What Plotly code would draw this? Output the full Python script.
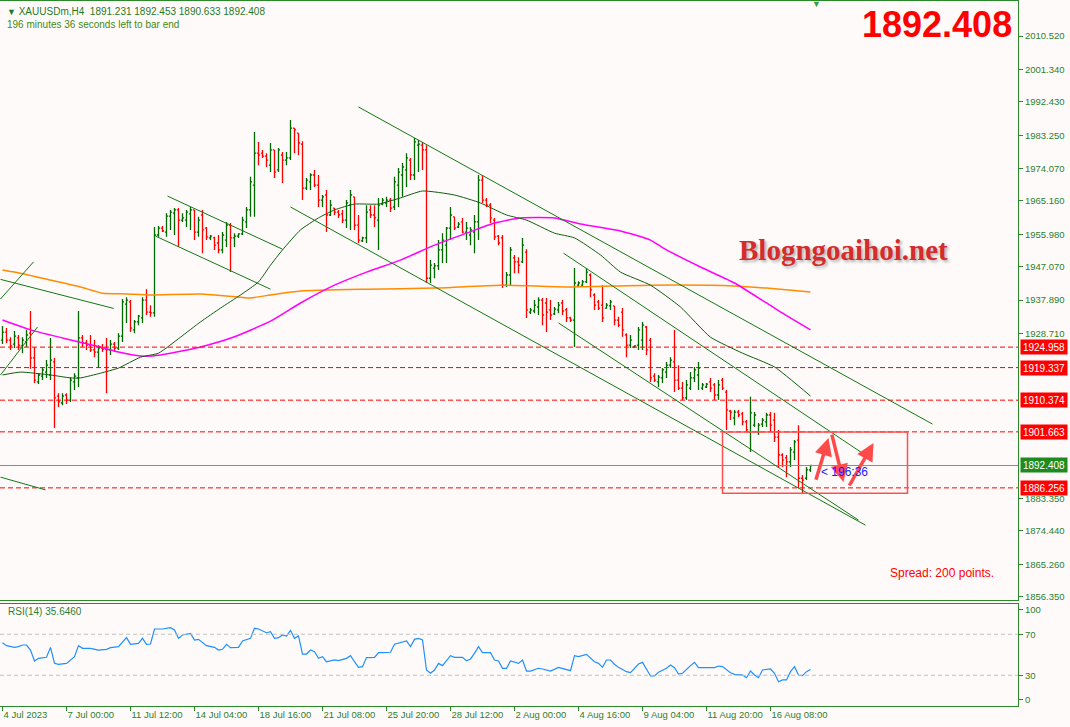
import plotly.graph_objects as go

W, H = 1070, 727

# ---------------- data: H4 bars (bar index 0 = 4 Jul 2023) ----------------
OPEN = [1926.9, 1929.1, 1926.9, 1925.8, 1927.5, 1925.3, 1926.4, 1928.8, 1922.0, 1915.4,
        1917.0, 1918.1, 1917.3, 1920.9, 1911.5, 1909.6, 1911.8, 1910.4, 1915.4, 1916.5,
        1927.5, 1926.1, 1925.5, 1924.2, 1923.6, 1924.7, 1924.4, 1924.2, 1925.8, 1924.7,
        1928.0, 1936.8, 1937.4, 1929.7, 1931.9, 1933.0, 1937.9, 1934.6, 1934.4, 1955.8,
        1957.7, 1956.6, 1961.0, 1961.8, 1962.7, 1959.9, 1959.9, 1961.6, 1962.7, 1956.6,
        1961.3, 1957.7, 1955.0, 1955.0, 1953.6, 1951.7, 1954.4, 1958.5, 1955.0, 1955.5,
        1956.1, 1959.4, 1962.7, 1969.5, 1978.3, 1978.3, 1977.5, 1975.0, 1979.2, 1973.7,
        1977.8, 1976.4, 1977.0, 1985.2, 1983.8, 1980.8, 1968.7, 1970.4, 1972.3, 1969.5,
        1965.4, 1966.8, 1961.3, 1963.2, 1962.1, 1961.6, 1959.9, 1964.0, 1966.3, 1958.5,
        1954.2, 1955.0, 1962.7, 1961.3, 1959.9, 1964.3, 1964.6, 1965.4, 1963.5, 1969.5,
        1972.3, 1973.7, 1976.4, 1972.3, 1980.5, 1980.5, 1979.2, 1943.9, 1946.7, 1947.3,
        1951.7, 1953.0, 1957.7, 1960.8, 1958.0, 1959.4, 1956.6, 1955.8, 1956.6, 1959.4,
        1970.9, 1965.4, 1964.0, 1959.9, 1955.5, 1955.0, 1942.0, 1944.8, 1949.5, 1948.4,
        1948.4, 1951.1, 1934.6, 1934.9, 1936.0, 1937.9, 1937.1, 1935.2, 1934.1, 1935.2,
        1937.1, 1935.2, 1933.0, 1932.4, 1942.0, 1942.0, 1942.9, 1944.8, 1939.3, 1937.4,
        1936.5, 1935.7, 1936.3, 1936.3, 1932.4, 1934.6, 1928.3, 1925.5, 1925.0, 1925.5,
        1926.9, 1930.5, 1926.9, 1917.0, 1915.4, 1916.5, 1918.1, 1920.0, 1920.9, 1915.9,
        1913.7, 1911.0, 1913.7, 1916.5, 1917.3, 1913.7, 1914.0, 1915.4, 1914.6, 1911.8,
        1915.9, 1912.6, 1907.4, 1905.5, 1907.1, 1906.6, 1904.4, 1901.6, 1903.5, 1901.6,
        1903.8, 1904.4, 1906.3, 1904.9, 1900.2, 1895.3, 1894.5, 1893.4, 1896.1, 1899.4,
        1888.9, 1888.9, 1891.231]
HIGH = [1930.8, 1930.2, 1927.7, 1929.4, 1928.3, 1927.7, 1929.7, 1934.9, 1925.0, 1917.8,
        1919.5, 1921.4, 1927.5, 1922.0, 1912.3, 1912.3, 1912.3, 1916.7, 1917.8, 1934.9,
        1928.3, 1926.9, 1928.3, 1926.9, 1925.5, 1925.8, 1927.5, 1926.9, 1926.4, 1928.8,
        1938.2, 1938.7, 1937.9, 1932.4, 1933.8, 1938.7, 1940.9, 1936.5, 1958.0, 1958.3,
        1958.3, 1961.8, 1962.7, 1963.2, 1963.2, 1961.8, 1962.7, 1963.5, 1962.7, 1960.8,
        1962.7, 1958.0, 1955.8, 1955.3, 1955.8, 1956.6, 1959.4, 1959.1, 1956.3, 1956.3,
        1960.8, 1963.5, 1971.8, 1984.1, 1981.4, 1979.2, 1978.3, 1981.1, 1979.2, 1979.7,
        1978.6, 1978.6, 1987.4, 1985.2, 1983.8, 1981.6, 1971.5, 1972.8, 1973.7, 1972.3,
        1966.8, 1968.2, 1965.4, 1963.2, 1962.7, 1962.7, 1965.4, 1968.2, 1966.3, 1961.3,
        1955.3, 1964.0, 1964.0, 1964.0, 1966.0, 1966.0, 1966.3, 1966.0, 1971.8, 1974.2,
        1975.6, 1978.3, 1977.0, 1982.5, 1981.9, 1981.4, 1980.5, 1948.9, 1948.1, 1954.4,
        1956.3, 1958.0, 1963.5, 1960.8, 1959.4, 1960.5, 1959.4, 1958.0, 1961.3, 1972.3,
        1972.3, 1966.0, 1964.6, 1960.5, 1955.8, 1955.8, 1945.6, 1952.5, 1950.3, 1949.7,
        1955.0, 1951.9, 1935.7, 1937.9, 1938.7, 1938.5, 1938.5, 1937.9, 1936.0, 1937.4,
        1937.9, 1935.7, 1933.3, 1946.7, 1943.1, 1943.4, 1946.7, 1945.3, 1939.8, 1937.9,
        1942.0, 1937.1, 1937.9, 1936.3, 1933.3, 1935.7, 1928.8, 1928.3, 1925.5, 1930.5,
        1931.9, 1930.8, 1927.5, 1917.8, 1917.3, 1919.2, 1920.9, 1922.2, 1929.7, 1920.0,
        1915.4, 1915.9, 1918.1, 1919.5, 1920.9, 1915.1, 1915.1, 1916.5, 1915.1, 1915.9,
        1916.5, 1913.2, 1907.7, 1907.7, 1907.7, 1907.1, 1904.9, 1911.3, 1907.1, 1904.1,
        1905.5, 1906.9, 1907.1, 1906.9, 1902.2, 1895.8, 1895.3, 1897.5, 1899.4, 1903.5,
        1889.8, 1892.0, 1892.453]
LOW = [1925.8, 1926.1, 1924.2, 1924.7, 1924.2, 1923.3, 1925.0, 1919.0, 1915.1, 1914.8,
       1915.9, 1916.5, 1915.9, 1902.7, 1908.5, 1909.0, 1909.3, 1909.9, 1913.2, 1914.0,
       1925.0, 1924.2, 1923.6, 1922.2, 1919.2, 1923.6, 1912.3, 1922.8, 1923.6, 1924.2,
       1926.4, 1931.6, 1929.1, 1928.8, 1931.0, 1931.6, 1933.8, 1933.3, 1933.3, 1955.3,
       1956.6, 1955.3, 1957.2, 1955.8, 1952.5, 1959.4, 1958.0, 1957.2, 1954.4, 1955.3,
       1950.8, 1954.4, 1954.4, 1951.7, 1950.8, 1950.8, 1952.5, 1945.6, 1952.5, 1955.0,
       1955.8, 1957.7, 1960.8, 1960.8, 1975.0, 1977.0, 1974.5, 1973.1, 1971.5, 1973.1,
       1970.1, 1975.0, 1976.4, 1978.3, 1977.8, 1965.4, 1968.2, 1968.2, 1969.0, 1963.5,
       1963.5, 1956.6, 1961.0, 1961.3, 1960.5, 1959.1, 1957.7, 1957.2, 1957.2, 1953.6,
       1953.9, 1953.6, 1960.5, 1958.0, 1951.7, 1964.0, 1963.5, 1962.1, 1962.7, 1963.5,
       1966.3, 1969.0, 1970.9, 1970.9, 1973.1, 1973.7, 1942.6, 1942.6, 1943.9, 1946.2,
       1948.1, 1948.1, 1954.4, 1957.2, 1957.7, 1956.3, 1954.4, 1953.0, 1950.8, 1954.4,
       1964.6, 1963.5, 1959.1, 1954.4, 1953.0, 1941.2, 1941.5, 1942.0, 1945.3, 1945.3,
       1948.1, 1933.0, 1934.1, 1934.3, 1933.8, 1931.0, 1929.1, 1932.4, 1933.8, 1934.3,
       1933.8, 1931.9, 1931.9, 1925.0, 1941.5, 1941.5, 1942.6, 1938.7, 1935.2, 1935.2,
       1931.9, 1935.5, 1935.2, 1931.0, 1930.5, 1927.8, 1922.2, 1924.7, 1924.7, 1924.2,
       1924.2, 1922.8, 1915.4, 1915.4, 1914.0, 1915.1, 1916.5, 1919.2, 1912.6, 1913.2,
       1910.4, 1910.4, 1913.2, 1915.4, 1913.2, 1913.2, 1913.7, 1912.6, 1910.4, 1910.4,
       1913.2, 1902.2, 1904.9, 1903.5, 1905.7, 1903.5, 1901.6, 1896.1, 1903.0, 1900.8,
       1903.0, 1903.0, 1901.6, 1898.9, 1891.7, 1892.0, 1889.2, 1892.0, 1893.9, 1886.2,
       1884.8, 1888.4, 1890.633]
CLOSE = [1929.1, 1926.9, 1925.3, 1928.0, 1925.5, 1926.9, 1928.3, 1922.0, 1915.9, 1917.3,
         1918.7, 1920.0, 1921.4, 1911.0, 1909.9, 1911.5, 1910.4, 1915.9, 1917.0, 1927.5,
         1926.1, 1925.5, 1924.2, 1923.6, 1924.7, 1924.4, 1924.2, 1925.8, 1924.7, 1928.0,
         1937.4, 1937.9, 1930.2, 1931.9, 1933.5, 1937.9, 1934.6, 1934.4, 1955.8, 1957.7,
         1956.9, 1961.0, 1962.1, 1962.7, 1959.9, 1960.5, 1962.1, 1962.7, 1956.6, 1959.9,
         1957.2, 1955.3, 1955.5, 1953.0, 1951.7, 1955.8, 1958.5, 1955.0, 1955.5, 1956.1,
         1959.9, 1962.7, 1970.4, 1978.3, 1977.8, 1977.5, 1976.4, 1979.2, 1973.1, 1979.2,
         1976.4, 1977.0, 1985.2, 1984.7, 1981.1, 1968.7, 1970.9, 1972.3, 1969.5, 1965.4,
         1966.3, 1961.3, 1964.0, 1962.1, 1961.3, 1959.9, 1964.6, 1966.8, 1958.5, 1954.4,
         1955.0, 1962.1, 1961.3, 1960.5, 1964.0, 1965.4, 1965.4, 1963.2, 1970.4, 1973.1,
         1974.5, 1977.0, 1972.3, 1981.4, 1980.8, 1979.2, 1943.9, 1947.5, 1947.3, 1951.7,
         1954.4, 1957.7, 1961.3, 1957.7, 1958.8, 1956.6, 1957.7, 1957.2, 1959.4, 1970.9,
         1965.4, 1964.0, 1960.5, 1955.3, 1953.6, 1942.0, 1944.8, 1951.7, 1948.4, 1947.5,
         1953.0, 1935.2, 1935.2, 1936.5, 1937.9, 1933.8, 1934.6, 1933.8, 1935.4, 1936.5,
         1934.9, 1933.0, 1932.4, 1942.6, 1942.6, 1942.9, 1945.6, 1940.7, 1936.5, 1935.7,
         1933.0, 1936.5, 1937.4, 1932.4, 1931.0, 1929.7, 1925.5, 1926.9, 1925.3, 1929.7,
         1931.0, 1924.2, 1916.5, 1915.9, 1916.7, 1918.7, 1920.0, 1921.4, 1915.9, 1913.7,
         1911.0, 1914.6, 1916.5, 1918.7, 1919.2, 1914.6, 1914.8, 1913.7, 1911.8, 1914.6,
         1913.7, 1907.7, 1907.1, 1907.1, 1906.3, 1904.4, 1902.2, 1906.9, 1906.3, 1903.5,
         1904.9, 1906.3, 1903.5, 1900.2, 1895.3, 1893.9, 1893.4, 1896.7, 1898.9, 1888.9,
         1888.4, 1891.2, 1892.408]
BAR_INDEX = list(range(len(OPEN)))

# time axis labels (every 16 bars)
TICK_INDEX = [0, 16, 32, 48, 64, 80, 96, 112, 128, 144, 160, 176, 192]
TICK_LABELS = ["4 Jul 2023", "7 Jul 00:00", "11 Jul 12:00", "14 Jul 04:00", "18 Jul 16:00",
               "21 Jul 08:00", "25 Jul 20:00", "28 Jul 12:00", "2 Aug 00:00", "4 Aug 16:00",
               "9 Aug 04:00", "11 Aug 20:00", "16 Aug 08:00"]

# moving averages
GREEN_MA_X = [0, 4.5, 12, 17, 19.5, 24.5, 29, 34.5, 39, 44.5, 49.5, 54.5, 59.5, 64, 67, 70, 74.5,
              79, 83, 88, 94, 99.5, 105, 113, 119.5, 126, 131, 138, 143, 149.5, 154.5, 162,
              169.5, 177, 185, 193, 202]
GREEN_MA_Y = [1917.3, 1918.1, 1917.3, 1916.5, 1916.5, 1917.8, 1919.2, 1922.2, 1923.3, 1927.7,
              1931.9, 1935.7, 1939.3, 1942.9, 1947.5, 1951.7, 1957.2, 1960.5, 1962.7, 1964.3,
              1964.3, 1966.0, 1967.9, 1966.8, 1964.6, 1961.3, 1959.9, 1956.3, 1955.0, 1950.3,
              1945.6, 1942.0, 1936.0, 1927.7, 1923.3, 1919.5, 1911.5]
MAGENTA_MA_X = [0, 7, 16, 24.5, 29, 34.5, 39.5, 49.5, 58, 67, 74.5, 83, 91, 99.5, 108, 116, 123,
                129.5, 138, 144.5, 154.5, 162, 166, 174.5, 183, 191, 195, 202]
MAGENTA_MA_Y = [1932.4, 1929.7, 1927.2, 1925.0, 1923.6, 1922.5, 1922.8, 1925.0, 1927.8, 1932.1,
                1937.1, 1942.0, 1945.6, 1948.9, 1953.0, 1956.3, 1959.1, 1960.5, 1960.5, 1958.8,
                1956.9, 1954.4, 1951.7, 1947.0, 1942.6, 1937.1, 1934.3, 1929.7]
ORANGE_MA_X = [0, 4.5, 12, 19.5, 25, 31, 37, 49.5, 59.5, 62, 67, 74.5, 91, 108, 124.5, 141, 162,
               183, 191, 202]
ORANGE_MA_Y = [1946.2, 1945.3, 1943.4, 1941.5, 1939.8, 1939.6, 1939.3, 1939.6, 1938.7, 1938.5,
               1939.3, 1940.4, 1940.9, 1941.2, 1942.0, 1941.5, 1942.0, 1941.8, 1941.2, 1940.1]

# RSI(14)
RSI_BAR = [0, 1, 3, 4, 5, 6, 7, 8, 9, 11, 12, 13, 14, 16, 18, 19, 20, 22, 24, 26,
           27, 29, 31, 32, 34, 35, 36, 37, 38, 40, 42, 43, 44, 45, 47, 48, 49, 51, 53, 54,
           55, 56, 57, 59, 60, 62, 63, 64, 66, 67, 68, 69, 70, 71, 72, 73, 74, 75, 76, 77,
           78, 79, 80, 81, 83, 84, 86, 87, 88, 89, 90, 91, 93, 94, 95, 97, 98, 99, 100, 101,
           102, 103, 104, 105, 106, 107, 108, 109, 110, 112, 113, 115, 116, 117, 118, 119, 120, 122, 123, 124,
           125, 126, 127, 128, 129, 130, 131, 132, 134, 135, 136, 137, 139, 140, 142, 143, 144, 146, 147, 148,
           149, 150, 151, 152, 153, 154, 156, 157, 159, 160, 162, 163, 164, 166, 167, 168, 169, 170, 172, 173,
           174, 178, 179, 180, 182, 183, 185, 186, 187, 188, 189, 190, 192, 193, 194, 195, 196, 197, 198, 199,
           200, 201, 202]
RSI_VALUE = [61.8, 58.9, 57.2, 57.9, 59.5, 59.5, 54.6, 43.9, 46.5, 47.5, 57.2, 41.6, 40.7, 41.6, 48.1, 58.9, 56.3, 56.3, 54.6, 55.3,
             56.9, 57.9, 66.7, 60.2, 61.1, 66.0, 60.2, 60.5, 75.1, 75.1, 76.4, 74.2, 66.0, 69.3, 70.9, 64.4, 65.0, 58.9, 57.2, 54.6,
             55.3, 60.2, 56.9, 57.2, 63.4, 66.0, 75.8, 75.1, 71.5, 72.5, 66.0, 66.7, 69.3, 68.3, 73.8, 66.0, 68.3, 50.7, 50.7, 54.6,
             53.0, 46.5, 48.1, 43.2, 44.9, 44.2, 46.5, 49.1, 43.2, 37.7, 38.4, 47.2, 47.5, 52.0, 52.0, 52.4, 60.2, 61.1, 61.8, 63.4,
             57.9, 65.0, 66.0, 64.4, 35.1, 31.9, 35.1, 41.6, 39.4, 49.1, 47.5, 47.5, 44.2, 45.9, 51.4, 57.9, 52.0, 52.0, 44.9, 43.9,
             36.8, 36.8, 43.9, 42.6, 41.6, 44.9, 34.1, 34.1, 36.8, 36.1, 35.1, 34.1, 37.7, 36.8, 34.5, 49.1, 48.1, 50.4, 46.5, 43.2,
             41.6, 37.7, 44.9, 44.9, 40.7, 37.7, 33.5, 32.5, 41.0, 42.6, 29.3, 29.3, 32.9, 36.8, 40.0, 37.4, 31.2, 31.9, 39.4, 42.6,
             37.4, 37.4, 39.0, 38.4, 32.5, 30.9, 30.2, 27.6, 34.1, 30.2, 27.6, 35.1, 36.1, 31.9, 23.7, 25.4, 25.4, 33.5, 38.4, 30.2,
             29.6, 33.5, 35.6]
RSI_LEVELS = [70, 30]

# horizontal levels and price axis
LEVELS = [1924.958, 1919.337, 1910.374, 1901.663, 1886.256]
BID = 1892.408
PRICE_TICKS = [2010.52, 2001.34, 1992.43, 1983.25, 1974.07, 1965.16, 1955.98, 1947.07,
               1937.89, 1928.71, 1883.35, 1874.44, 1865.26, 1856.35]

# drawn trend lines: (bar0, price0, bar1, price1)
TRENDLINES = [
    (-0.5, 1938.2, 7.75, 1948.4),
    (-0.5, 1917.3, 8.75, 1930.5),
    (-0.5, 1943.6, 27.8, 1935.6),
    (-0.5, 1889.2, 10.75, 1885.7),
    (41.25, 1966.5, 70, 1951.9),
    (38.25, 1955.5, 67, 1940.9),
    (89, 1991.0, 232.5, 1903.8),
    (72, 1963.5, 215.75, 1876.0),
    (140.25, 1950.8, 215, 1895.8),
    (139, 1931.6, 214, 1877.4),
]
BOX = (180, 1884.8, 226.25, 1901.6)
# arrows: (tail bar, tail price, head bar, head price)
ARROWS = [
    (203.25, 1888.1, 206.5, 1900.0),
    (207.25, 1901.3, 210.25, 1887.9),
    (211.5, 1886.5, 217.75, 1898.6),
]

# ---------------- styling ----------------
BG = "#fffafa"
FRAME = "#2a8a2a"
LABEL = "#2b7f2b"
UP = "#006a00"
DN = "#ff0000"
TL = "#127812"
FONT = "Liberation Sans"

X_RANGE = [-0.625, 253.875]
Y_RANGE = [1855.42, 2020.15]
XDOM = [0, 1018 / W]
MAIN_DOM = [1 - 600 / H, 1 - 1 / H]
RSI_DOM = [1 - 706 / H, 1 - 603.5 / H]


def px(x):
    return x / W


def py(y):
    return 1 - y / H


fig = go.Figure()

fig.add_trace(go.Ohlc(
    x=BAR_INDEX, open=OPEN, high=HIGH, low=LOW, close=CLOSE,
    increasing=dict(line=dict(color=UP, width=1.3)),
    decreasing=dict(line=dict(color=DN, width=1.3)),
    tickwidth=0.4, xaxis="x", yaxis="y", hoverinfo="skip", showlegend=False))

for xs, ys, col, wd in [(ORANGE_MA_X, ORANGE_MA_Y, "#ff8c00", 1.5),
                        (MAGENTA_MA_X, MAGENTA_MA_Y, "#ff00ff", 1.5),
                        (GREEN_MA_X, GREEN_MA_Y, "#0b5e0b", 1)]:
    fig.add_trace(go.Scatter(x=xs, y=ys, mode="lines",
                             line=dict(color=col, width=wd, shape="spline", smoothing=0.5),
                             xaxis="x", yaxis="y", hoverinfo="skip", showlegend=False))

fig.add_trace(go.Scatter(x=RSI_BAR, y=RSI_VALUE, mode="lines",
                         line=dict(color="#1e90ff", width=1.2),
                         xaxis="x2", yaxis="y2", hoverinfo="skip", showlegend=False))

shapes = []
for lv in LEVELS:
    shapes.append(dict(type="line", xref="x", yref="y", x0=X_RANGE[0], x1=X_RANGE[1], y0=lv, y1=lv,
                       line=dict(color="#ff0000", width=1, dash="5px,3px")))
shapes.append(dict(type="line", xref="x", yref="y", x0=X_RANGE[0], x1=X_RANGE[1], y0=BID, y1=BID,
                   line=dict(color="#8c8c8c", width=1)))
for lv in RSI_LEVELS:
    shapes.append(dict(type="line", xref="x2", yref="y2", x0=X_RANGE[0], x1=X_RANGE[1], y0=lv, y1=lv,
                       line=dict(color="#c0c0c0", width=1, dash="4px,3px")))
for (a0, p0, a1, p1) in TRENDLINES:
    shapes.append(dict(type="line", xref="x", yref="y", x0=a0, y0=p0, x1=a1, y1=p1,
                       line=dict(color=TL, width=1)))
shapes.append(dict(type="rect", xref="x", yref="y", x0=BOX[0], x1=BOX[2], y0=BOX[1], y1=BOX[3],
                   line=dict(color="#ff5050", width=1.5)))

ann = []
# price labels on axis
for lv in LEVELS:
    ann.append(dict(xref="paper", yref="y", x=px(1020), y=lv, xanchor="left", yanchor="middle",
                    text=f"{lv:.3f}", showarrow=False, bgcolor="#ff0000", width=44, height=12,
                    borderpad=1, font=dict(family=FONT, size=10, color="white")))
ann.append(dict(xref="paper", yref="y", x=px(1020), y=BID, xanchor="left", yanchor="middle",
                text=f"{BID:.3f}", showarrow=False, bgcolor="#1f8a1f", width=44, height=12,
                borderpad=1, font=dict(family=FONT, size=10, color="white")))
# arrows
for (a0, p0, a1, p1) in ARROWS:
    ann.append(dict(xref="x", yref="y", axref="x", ayref="y", x=a1, y=p1, ax=a0, ay=p0,
                    text="", showarrow=True, arrowhead=2, arrowsize=1, arrowwidth=3.5,
                    arrowcolor="#ff4a4a"))
ann.append(dict(xref="x", yref="y", x=204, y=1890.6, xanchor="left", yanchor="middle",
                text="&lt; 196:36", showarrow=False,
                font=dict(family=FONT, size=12, color="#1a1aff")))
# texts
ann.append(dict(xref="paper", yref="paper", x=px(5), y=py(11), xanchor="left", yanchor="middle",
                text="<span style='font-size:9px'>▼</span> XAUUSDm,H4\u00a0\u00a01891.231 1892.453 1890.633 1892.408",
                showarrow=False, font=dict(family=FONT, size=10, color="#1f7a1f")))
ann.append(dict(xref="paper", yref="paper", x=px(5), y=py(24), xanchor="left", yanchor="middle",
                text="196 minutes 36 seconds left to bar end",
                showarrow=False, font=dict(family=FONT, size=10, color="#3f8a10")))
ann.append(dict(xref="paper", yref="paper", x=px(6), y=py(611), xanchor="left", yanchor="middle",
                text="RSI(14) 35.6460", showarrow=False,
                font=dict(family=FONT, size=10, color="#2f7f2f")))
ann.append(dict(xref="paper", yref="paper", x=px(1014), y=py(25), xanchor="right", yanchor="middle",
                text="<b>1892.408</b>", showarrow=False,
                font=dict(family=FONT, size=36, color="#ff0000")))
ann.append(dict(xref="paper", yref="paper", x=px(843), y=py(250), xanchor="center", yanchor="middle",
                text="<b>Blogngoaihoi.net</b>", showarrow=False,
                font=dict(family="Liberation Serif", size=29, color="#d42c2c",
                          shadow="2px 2px 3px #b0b0b0")))
ann.append(dict(xref="paper", yref="paper", x=px(942), y=py(573), xanchor="center", yanchor="middle",
                text="Spread: 200 points.", showarrow=False,
                font=dict(family=FONT, size=12, color="#ff0000")))
ann.append(dict(xref="paper", yref="paper", x=px(816), y=py(4), xanchor="center", yanchor="middle",
                text="▼", showarrow=False, font=dict(family=FONT, size=9, color="#3a9a3a")))

axis_common = dict(showgrid=False, zeroline=False, showline=True, mirror=True,
                   linecolor=FRAME, linewidth=1, automargin=False)

fig.update_layout(
    width=W, height=H, autosize=False,
    margin=dict(l=0, r=0, t=0, b=0, pad=0),
    paper_bgcolor=BG, plot_bgcolor=BG,
    showlegend=False, dragmode=False, hovermode=False,
    xaxis=dict(domain=XDOM, range=X_RANGE, anchor="y", showticklabels=False, ticks="",
               rangeslider=dict(visible=False), **axis_common),
    yaxis=dict(domain=MAIN_DOM, range=Y_RANGE, anchor="x", side="right",
               tickvals=PRICE_TICKS, ticktext=[f"{v:.3f}" for v in PRICE_TICKS],
               ticks="outside", ticklen=4, tickcolor=FRAME,
               tickfont=dict(family=FONT, size=9.5, color=LABEL), **axis_common),
    xaxis2=dict(domain=XDOM, range=X_RANGE, anchor="y2", tickvals=TICK_INDEX, ticktext=TICK_LABELS,
                ticks="outside", ticklen=4, tickcolor=FRAME, ticklabelposition="outside right",
                tickangle=0, rangeslider=dict(visible=False),
                tickfont=dict(family=FONT, size=9.5, color=LABEL), **axis_common),
    yaxis2=dict(domain=RSI_DOM, range=[0, 100], anchor="x2", side="right",
                tickvals=[94, 70, 30, 6], ticktext=["100", "70", "30", "0"],
                ticks="outside", ticklen=4, tickcolor=FRAME,
                tickfont=dict(family=FONT, size=9.5, color=LABEL), **axis_common),
    shapes=shapes, annotations=ann,
)

fig.write_html("out.html", config={"displayModeBar": False, "staticPlot": True},
               post_script="document.body.style.margin='0px';document.body.style.overflow='hidden';")
